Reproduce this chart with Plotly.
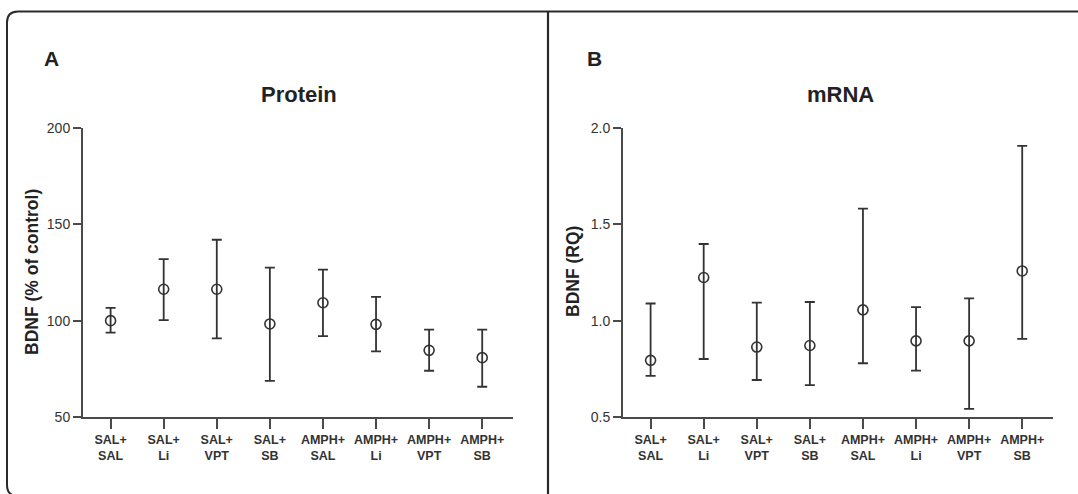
import plotly.graph_objects as go

categories = ["SAL+<br>SAL", "SAL+<br>Li", "SAL+<br>VPT", "SAL+<br>SB",
              "AMPH+<br>SAL", "AMPH+<br>Li", "AMPH+<br>VPT", "AMPH+<br>SB"]

protein_mean = [100.0, 116.3, 116.3, 98.3, 109.3, 98.1, 84.6, 80.8]
protein_upper = [106.6, 131.9, 142.0, 127.5, 126.5, 112.4, 95.3, 95.3]
protein_lower = [93.8, 100.3, 90.8, 68.7, 92.0, 84.1, 74.0, 65.7]

mrna_mean = [0.794, 1.224, 0.863, 0.871, 1.056, 0.895, 0.895, 1.258]
mrna_upper = [1.089, 1.398, 1.094, 1.097, 1.582, 1.070, 1.116, 1.907]
mrna_lower = [0.713, 0.801, 0.692, 0.665, 0.779, 0.741, 0.542, 0.905]

protein_ticks = [50, 100, 150, 200]
mrna_ticks = [0.5, 1.0, 1.5, 2.0]
mrna_ticktext = ["0.5", "1.0", "1.5", "2.0"]

W, H = 1078, 494
FONT = "Liberation Sans, Arial, Helvetica, sans-serif"
INK = "#333333"
AXIS = "#4a4a4a"

def px(x):
    return x / W

def py(y):
    return 1 - y / H

xpos = list(range(len(categories)))

fig = go.Figure()

def add_series(mean, upper, lower, xa, ya):
    fig.add_trace(go.Scatter(
        x=xpos, y=mean, mode="markers",
        xaxis=xa, yaxis=ya,
        marker=dict(symbol="circle-open", size=10, color=INK, line=dict(width=1.6, color=INK)),
        error_y=dict(type="data", symmetric=False,
                     array=[u - m for u, m in zip(upper, mean)],
                     arrayminus=[m - l for m, l in zip(mean, lower)],
                     color=INK, thickness=1.8, width=5),
        showlegend=False, hoverinfo="skip",
    ))

add_series(protein_mean, protein_upper, protein_lower, "x", "y")
add_series(mrna_mean, mrna_upper, mrna_lower, "x2", "y2")

ydom = [py(417), py(128)]
xcommon = dict(
    range=[-0.52, 7.58], tickmode="array", tickvals=xpos, ticktext=categories,
    showline=True, linecolor=AXIS, linewidth=2, ticks="outside", ticklen=10,
    tickwidth=2, tickcolor=AXIS, showgrid=False, zeroline=False, automargin=False,
    tickfont=dict(family=FONT, size=12.5, color=INK, weight="bold"), fixedrange=True,
)
ycommon = dict(
    showline=True, linecolor=AXIS, linewidth=2, ticks="outside", ticklen=8,
    tickwidth=1.5, tickcolor=AXIS, showgrid=False, zeroline=False, automargin=False,
    tickfont=dict(family=FONT, size=14, color=INK), fixedrange=True,
)

fig.update_layout(
    template="none",
    width=W, height=H,
    margin=dict(l=0, r=0, t=0, b=0, pad=0, autoexpand=False),
    paper_bgcolor="white", plot_bgcolor="white",
    xaxis=dict(domain=[px(83), px(513)], anchor="y", **xcommon),
    yaxis=dict(domain=ydom, anchor="x", range=[50, 200], tickvals=protein_ticks, **ycommon),
    xaxis2=dict(domain=[px(623), px(1053)], anchor="y2", **xcommon),
    yaxis2=dict(domain=ydom, anchor="x2", range=[0.5, 2.0], tickvals=mrna_ticks,
                ticktext=mrna_ticktext, **ycommon),
)

# Frame: rounded left box and divider
r = 11
x0, ytop, ybot = 7, 11.5, 496
path = (f"M {px(1080)},{py(ytop)} L {px(x0 + r)},{py(ytop)} "
        f"Q {px(x0)},{py(ytop)} {px(x0)},{py(ytop + r)} "
        f"L {px(x0)},{py(ybot - r)} Q {px(x0)},{py(ybot)} {px(x0 + r)},{py(ybot)}")
fig.add_shape(type="path", path=path, xref="paper", yref="paper",
              line=dict(color="#2a2a2a", width=2))
fig.add_shape(type="line", xref="paper", yref="paper",
              x0=px(548), x1=px(548), y0=py(ytop), y1=py(500),
              line=dict(color="#2a2a2a", width=2.2))

def ann(text, x, y, size, xanchor="center", angle=0):
    fig.add_annotation(text=text, x=px(x), y=py(y), xref="paper", yref="paper",
                       showarrow=False, xanchor=xanchor, yanchor="middle",
                       textangle=angle,
                       font=dict(family=FONT, size=size, color="#222222", weight="bold"))

ann("A", 42, 58, 21, xanchor="left")
ann("B", 585, 58, 21, xanchor="left")
ann("Protein", 299, 95, 22)
ann("mRNA", 840, 95, 22)
ann("BDNF (% of control)", 32, 272, 17.5, angle=-90)
ann("BDNF (RQ)", 573, 272, 17.5, angle=-90)

fig.write_html("out.html")
